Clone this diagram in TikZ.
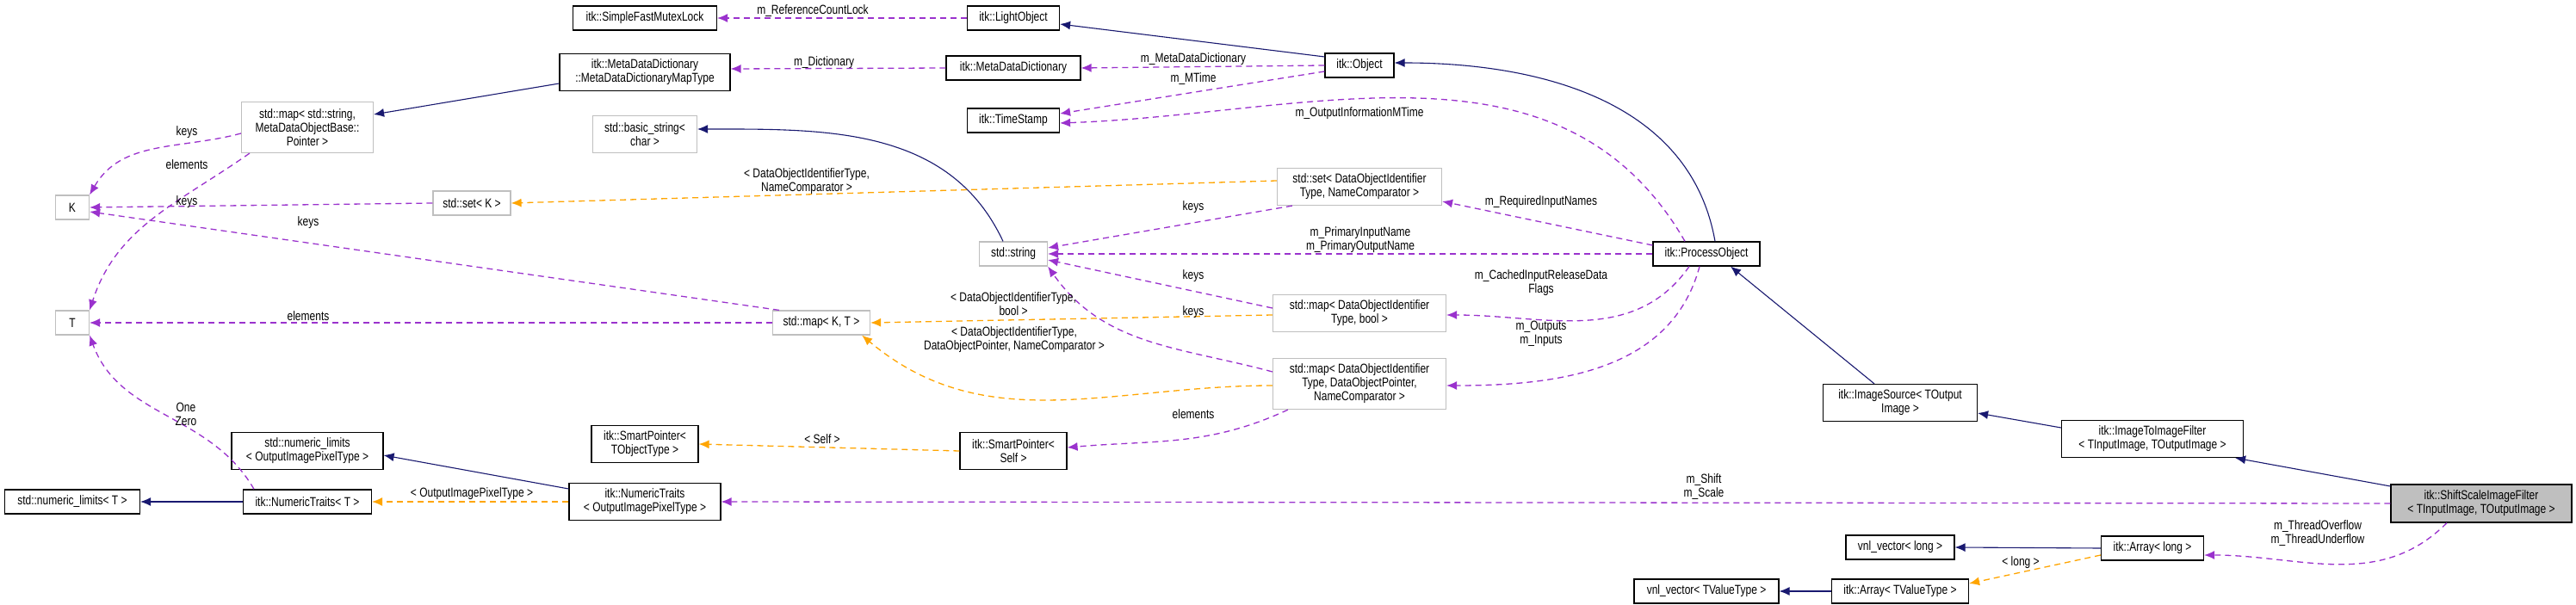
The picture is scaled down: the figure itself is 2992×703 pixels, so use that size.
\documentclass[tikz,border=0pt]{standalone}
\usepackage{fontspec}
\setmainfont{Liberation Sans}[FakeStretch=0.8]
\usetikzlibrary{arrows.meta}
\definecolor{inhc}{HTML}{191970}
\definecolor{usec}{HTML}{9A32CD}
\definecolor{tmpc}{HTML}{FFA500}
\definecolor{gbord}{HTML}{BFBFBF}
\newcommand{\dfnt}{\fontsize{15}{16}\selectfont}
\tikzset{
 box/.style={draw=black, line width=1.2pt, fill=white, inner sep=1pt, font=\dfnt, align=center},
 gbox/.style={box, draw=gbord},
 arr/.style={-{Latex[length=12pt,width=10pt]}},
 inh/.style={arr, draw=inhc, line width=1.1pt},
 use/.style={arr, draw=usec, line width=1.3pt, dash pattern=on 7pt off 5pt},
 tmp/.style={arr, draw=tmpc, line width=1.3pt, dash pattern=on 7pt off 5pt},
 lbl/.style={font=\dfnt, align=center, inner sep=0pt}
}
\begin{document}
\begin{tikzpicture}[x=1pt,y=-1pt]
\useasboundingbox[fill=white] (0,0) rectangle (2992,703);
% nodes
\node[box, minimum width=167, minimum height=28] (sfml) at (749,21) {itk::SimpleFastMutexLock};
\node[box, minimum width=107, minimum height=28] (lo) at (1177,21) {itk::LightObject};
\node[box, minimum width=198, minimum height=43] (mdt) at (749,84) {itk::MetaDataDictionary\\::MetaDataDictionaryMapType};
\node[box, minimum width=156, minimum height=28] (mdd) at (1177,79) {itk::MetaDataDictionary};
\node[box, minimum width=80, minimum height=28] (obj) at (1579,76) {itk::Object};
\node[box, minimum width=107, minimum height=28] (ts) at (1177,140) {itk::TimeStamp};
\node[gbox, minimum width=153, minimum height=59] (mss) at (357,148) {std::map{\textless} std::string,\\MetaDataObjectBase::\\Pointer {\textgreater}};
\node[gbox, minimum width=121, minimum height=43] (bs) at (749,156) {std::basic\_string{\textless}\\char {\textgreater}};
\node[gbox, minimum width=39, minimum height=28] (K) at (84,241) {K};
\node[gbox, minimum width=90, minimum height=28] (setk) at (548,236) {std::set{\textless} K {\textgreater}};
\node[gbox, minimum width=191, minimum height=43] (setd) at (1579,217) {std::set{\textless} DataObjectIdentifier\\Type, NameComparator {\textgreater}};
\node[gbox, minimum width=79, minimum height=28] (str) at (1177,295) {std::string};
\node[box, minimum width=124, minimum height=28] (po) at (1982,295) {itk::ProcessObject};
\node[gbox, minimum width=39, minimum height=28] (T) at (84,375) {T};
\node[gbox, minimum width=113, minimum height=28] (mkt) at (954,375) {std::map{\textless} K, T {\textgreater}};
\node[gbox, minimum width=201, minimum height=43] (mbool) at (1579,364) {std::map{\textless} DataObjectIdentifier\\Type, bool {\textgreater}};
\node[gbox, minimum width=201, minimum height=59] (mdop) at (1579,446) {std::map{\textless} DataObjectIdentifier\\Type, DataObjectPointer,\\NameComparator {\textgreater}};
\node[box, minimum width=124, minimum height=43] (spt) at (749,516) {itk::SmartPointer{\textless}\\TObjectType {\textgreater}};
\node[box, minimum width=124, minimum height=43] (sps) at (1177,524) {itk::SmartPointer{\textless}\\Self {\textgreater}};
\node[box, minimum width=176, minimum height=43] (nlo) at (357,524) {std::numeric\_limits\\{\textless} OutputImagePixelType {\textgreater}};
\node[box, minimum width=157, minimum height=28] (nlt) at (84,583) {std::numeric\_limits{\textless} T {\textgreater}};
\node[box, minimum width=149, minimum height=28] (ntt) at (357,583) {itk::NumericTraits{\textless} T {\textgreater}};
\node[box, minimum width=176, minimum height=43] (nto) at (749,583) {itk::NumericTraits\\{\textless} OutputImagePixelType {\textgreater}};
\node[box, minimum width=179, minimum height=43] (is) at (2207,468) {itk::ImageSource{\textless} TOutput\\Image {\textgreater}};
\node[box, minimum width=211, minimum height=43] (iti) at (2500,510) {itk::ImageToImageFilter\\{\textless} TInputImage, TOutputImage {\textgreater}};
\node[box, fill=gbord, minimum width=210, minimum height=44] (ss) at (2882,585) {itk::ShiftScaleImageFilter\\{\textless} TInputImage, TOutputImage {\textgreater}};
\node[box, minimum width=126, minimum height=28] (vl) at (2207,636) {vnl\_vector{\textless} long {\textgreater}};
\node[box, minimum width=119, minimum height=28] (al) at (2500,637) {itk::Array{\textless} long {\textgreater}};
\node[box, minimum width=168, minimum height=28] (vtv) at (1982,687) {vnl\_vector{\textless} TValueType {\textgreater}};
\node[box, minimum width=159, minimum height=28] (atv) at (2207,687) {itk::Array{\textless} TValueType {\textgreater}};
% inheritance
\draw[inh] (obj.west |- 0,66) -- (lo.east |- 0,28);
\draw[inh] (mdt.west |- 0,97) -- (mss.east |- 0,133);
\draw[inh] ([xshift=-12pt]str.north) to[out=115,in=0] (bs.east |- 0,150);
\draw[inh] ([xshift=10pt]po.north) to[out=100,in=0] (obj.east |- 0,73);
\draw[inh] ([xshift=-30pt]is.north) -- ([xshift=28pt]po.south);
\draw[inh] (iti.west |- 0,497) -- (is.east |- 0,480);
\draw[inh] (ss.west |- 0,565) -- ([xshift=-10pt]iti.south east);
\draw[inh] (ntt.west) -- (nlt.east);
\draw[inh] (nto.west |- 0,568) -- (nlo.east |- 0,529);
\draw[inh] (al.west) -- (vl.east);
\draw[inh] (atv.west) -- (vtv.east);
% usage
\draw[use] (lo.west) -- (sfml.east);
\draw[use] (mdd.west) -- (mdt.east |- 0,80);
\draw[use] (obj.west) -- (mdd.east);
\draw[use] (obj.west |- 0,83) -- (ts.east |- 0,132);
\draw[use] ([xshift=-25pt]po.north) to[out=120,in=2] (ts.east |- 0,143);
\draw[use] (mss.west |- 0,155) to[out=195,in=60] (K.north east);
\draw[use] ([xshift=10pt]mss.south west) to[out=-145,in=72] (T.north east);
\draw[use] (setk.west) -- (K.east);
\draw[use] ([xshift=8pt]mkt.north west) -- (K.east |- 0,246);
\draw[use] (mkt.west) -- (T.east);
\draw[use] ([xshift=18pt]setd.south west) -- (str.east |- 0,288);
\draw[use] (po.west |- 0,285) -- (setd.east |- 0,234);
\draw[use] (po.west) -- (str.east);
\draw[use] (mbool.west |- 0,358) -- (str.east |- 0,302);
\draw[use] (mdop.west |- 0,432) to[out=165,in=-55] (str.south east);
\draw[use] ([xshift=-20pt]po.south) to[out=-125,in=0] (mbool.east |- 0,366);
\draw[use] ([xshift=-8pt]po.south) to[out=-105,in=0] (mdop.east |- 0,448);
\draw[use] ([xshift=18pt]mdop.south west) to[out=-155,in=5] (sps.east |- 0,520);
\draw[use] ([xshift=-62pt]ntt.north) to[out=120,in=-70] (T.south east);
\draw[use] (ss.west) -- (nto.east);
\draw[use] ([xshift=-40pt]ss.south) to[out=-135,in=0] (al.east |- 0,645);
% templates
\draw[tmp] (setd.west |- 0,210) -- (setk.east);
\draw[tmp] (mbool.west |- 0,366) -- (mkt.east);
\draw[tmp] (mdop.west |- 0,448) to[out=180,in=-40] ([xshift=-10pt]mkt.south east);
\draw[tmp] (sps.west) -- (spt.east);
\draw[tmp] (nto.west |- 0,583) -- (ntt.east);
\draw[tmp] (al.west |- 0,645) -- (atv.east |- 0,678);
% labels
\node[lbl] (l1) at (944,13) {m\_ReferenceCountLock};
\node[lbl] (l2) at (957,73) {m\_Dictionary};
\node[lbl] (l3) at (1386,69) {m\_MetaDataDictionary};
\node[lbl] (l4) at (1386,92) {m\_MTime};
\node[lbl] (l5) at (1579,132) {m\_OutputInformationMTime};
\node[lbl] (l6) at (217,154) {keys};
\node[lbl] (l7) at (217,191) {elements};
\node[lbl] (l8) at (217,235) {keys};
\node[lbl] (l9) at (358,259) {keys};
\node[lbl] (l10) at (937,211) {{\textless} DataObjectIdentifierType,\\NameComparator {\textgreater}};
\node[lbl] (l11) at (1386,241) {keys};
\node[lbl] (l12) at (1790,235) {m\_RequiredInputNames};
\node[lbl] (l13) at (1580,279) {m\_PrimaryInputName\\m\_PrimaryOutputName};
\node[lbl] (l14) at (1386,321) {keys};
\node[lbl] (l15) at (1790,329) {m\_CachedInputReleaseData\\Flags};
\node[lbl] (l16) at (1177,353) {{\textless} DataObjectIdentifierType,\\bool {\textgreater}};
\node[lbl] (l17) at (1386,363) {keys};
\node[lbl] (l18) at (358,367) {elements};
\node[lbl] (l19) at (1790,388) {m\_Outputs\\m\_Inputs};
\node[lbl] (l20) at (1178,395) {{\textless} DataObjectIdentifierType,\\DataObjectPointer, NameComparator {\textgreater}};
\node[lbl] (l21) at (216,481) {One\\Zero};
\node[lbl] (l22) at (1386,481) {elements};
\node[lbl] (l23) at (955,510) {{\textless} Self {\textgreater}};
\node[lbl] (l24) at (1979,566) {m\_Shift\\m\_Scale};
\node[lbl] (l25) at (548,574) {{\textless} OutputImagePixelType {\textgreater}};
\node[lbl] (l26) at (2692,620) {m\_ThreadOverflow\\m\_ThreadUnderflow};
\node[lbl] (l27) at (2347,654) {{\textless} long {\textgreater}};
\end{tikzpicture}
\end{document}
